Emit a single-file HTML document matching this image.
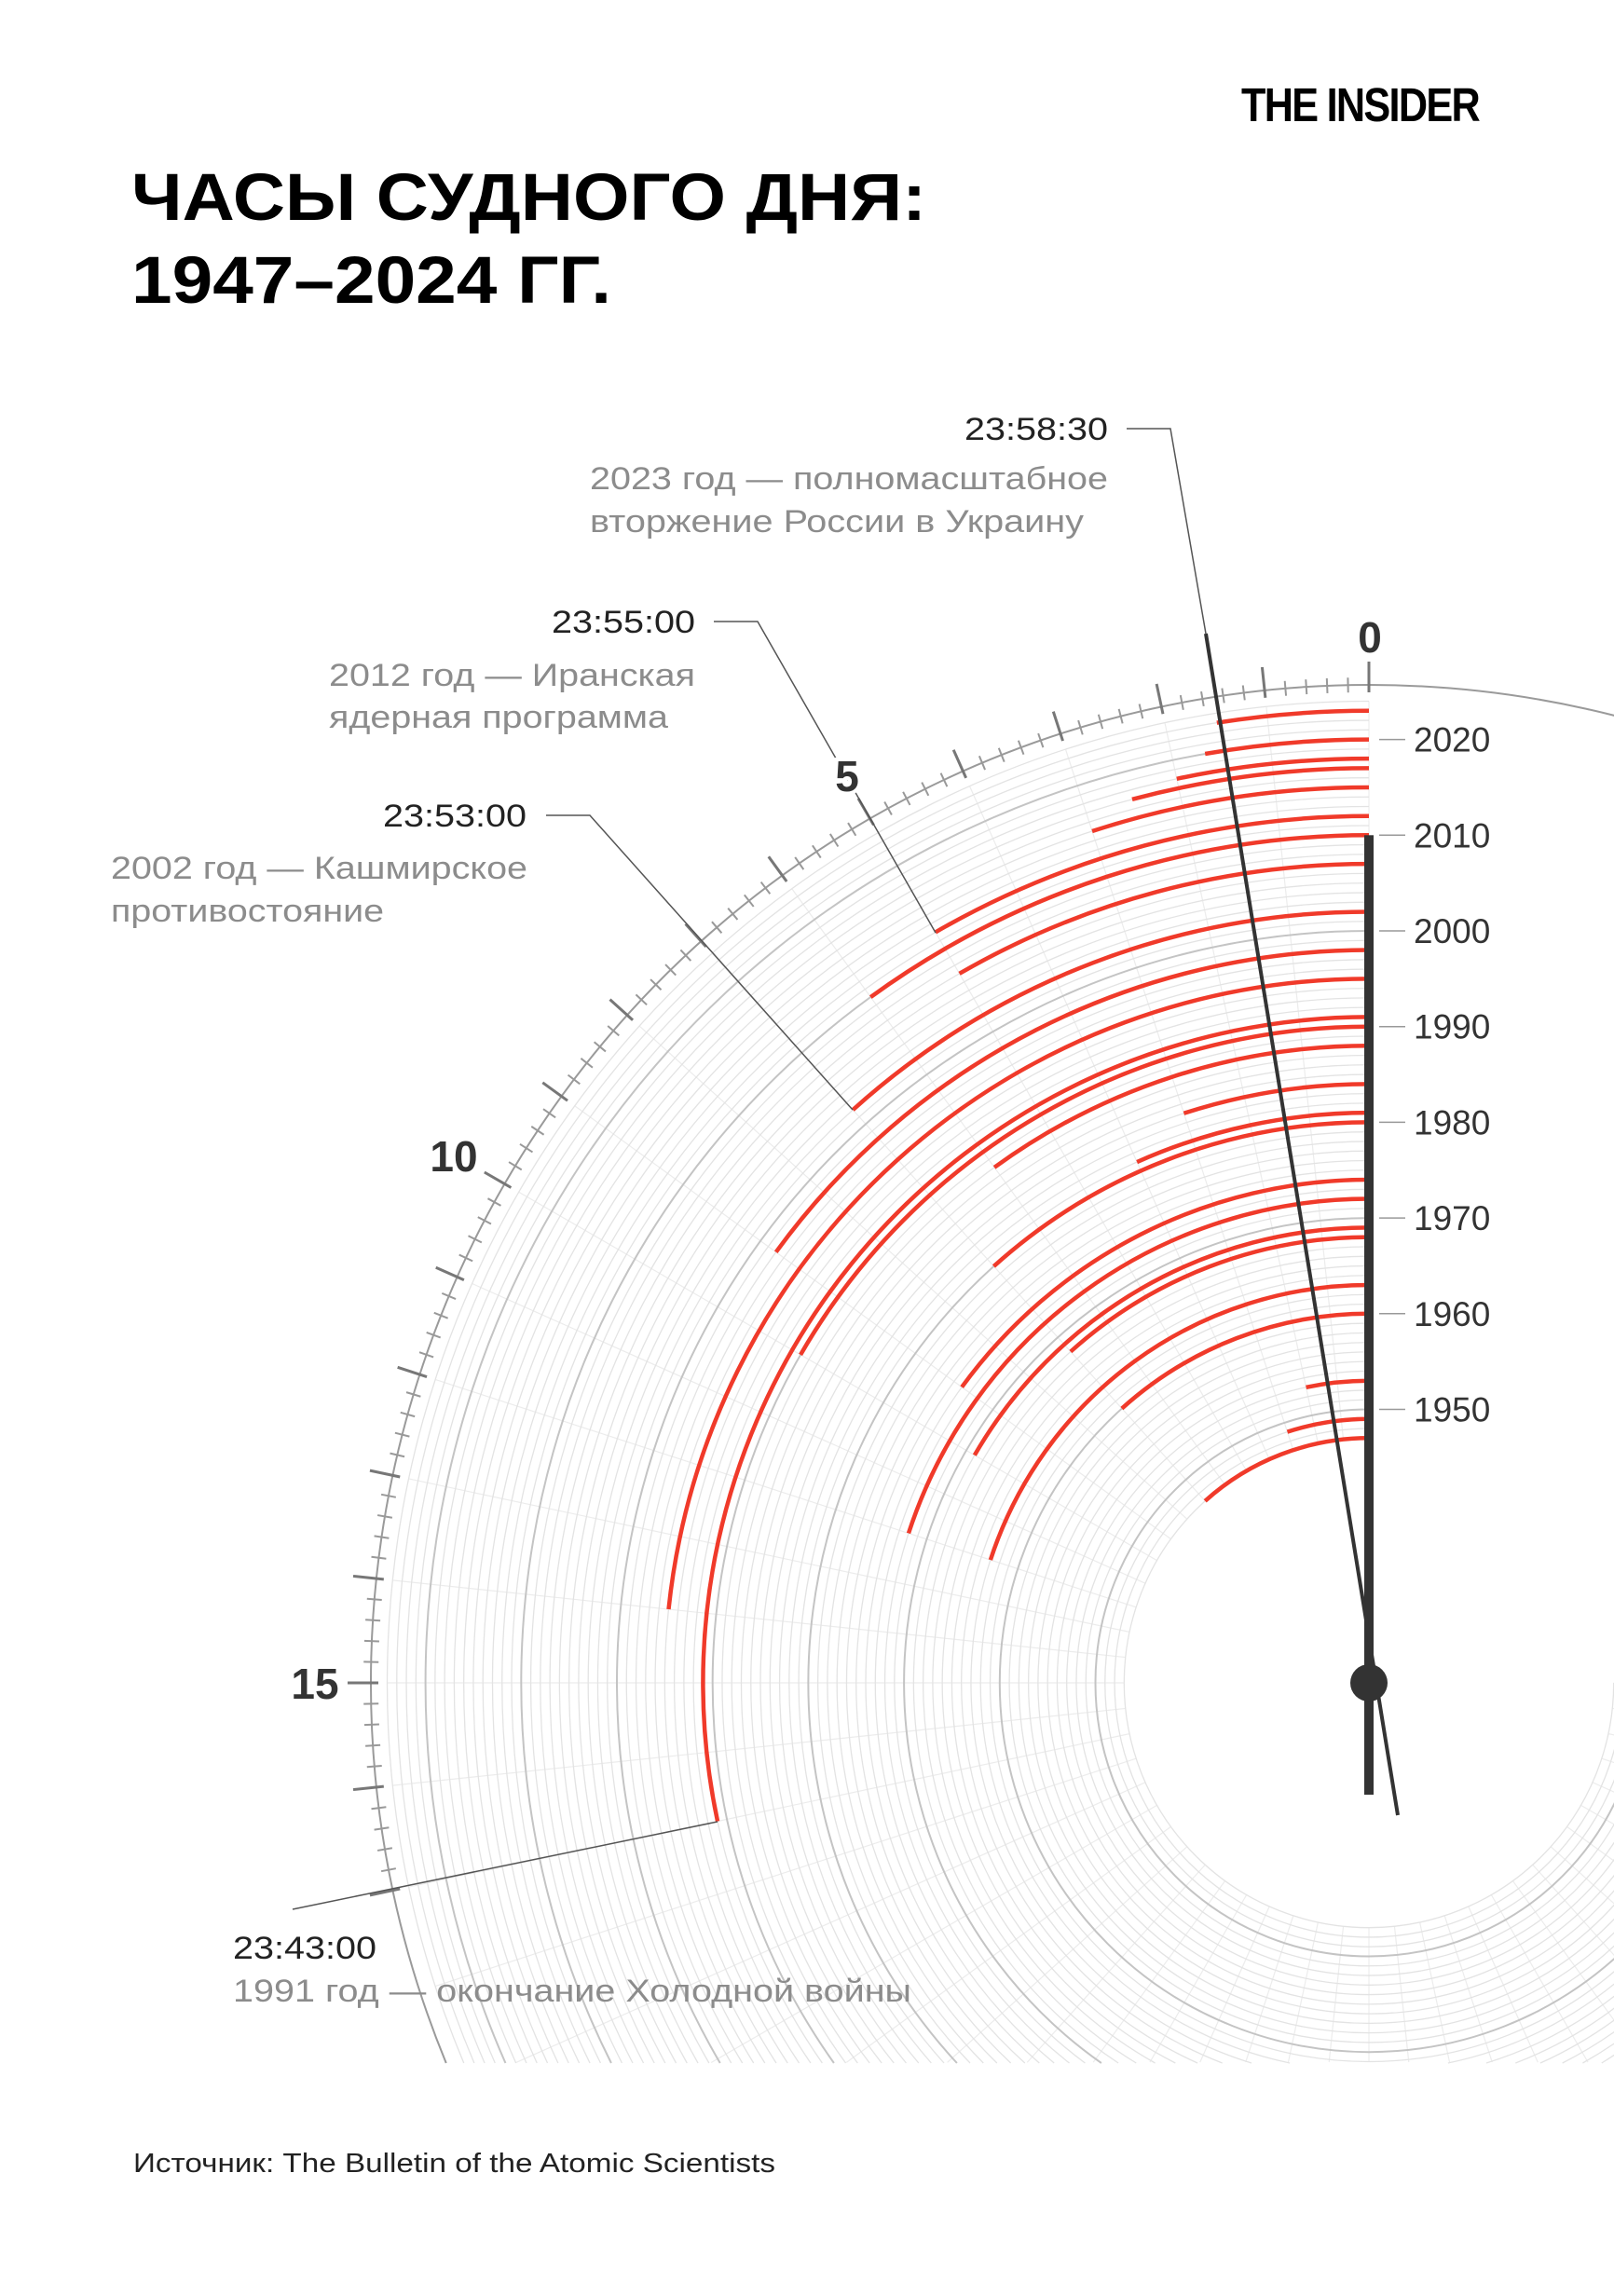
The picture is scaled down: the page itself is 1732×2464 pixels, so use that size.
<!DOCTYPE html>
<html><head><meta charset="utf-8">
<style>
html,body{margin:0;padding:0;background:#fff;width:1732px;height:2464px;overflow:hidden;}
svg{display:block;}
text{font-family:"Liberation Sans","DejaVu Sans",sans-serif;}
</style></head>
<body>
<svg id="s" width="1732" height="2464" viewBox="0 0 1732 2464" xmlns="http://www.w3.org/2000/svg">
<rect width="1732" height="2464" fill="#fff"/>
<text x="1332" y="130" font-size="51" font-weight="bold" fill="#000" textLength="255" lengthAdjust="spacingAndGlyphs" letter-spacing="-2">THE INSIDER</text>
<text x="141" y="236" font-size="71" font-weight="bold" fill="#000" textLength="853" lengthAdjust="spacingAndGlyphs">ЧАСЫ СУДНОГО ДНЯ:</text>
<text x="141" y="325" font-size="71" font-weight="bold" fill="#000" textLength="515" lengthAdjust="spacingAndGlyphs">1947–2024 ГГ.</text>
<g id="grid"></g>
<g id="arcs"></g>
<g id="ticks"></g>
<g id="ann" fill="none" stroke="#555" stroke-width="1.5">
<polyline points="1209,460 1256,460 1294,680"/>
<polyline points="766,667 813,667 1004,1001"/>
<polyline points="586,875 633,875 915,1191"/>
<polyline points="314,2049 770,1955"/>
</g>
<g id="hands"></g>
<g font-size="34" fill="#222">
<text x="1189" y="472" text-anchor="end" textLength="154" lengthAdjust="spacingAndGlyphs">23:58:30</text>
<text x="746" y="679" text-anchor="end" textLength="154" lengthAdjust="spacingAndGlyphs">23:55:00</text>
<text x="565" y="887" text-anchor="end" textLength="154" lengthAdjust="spacingAndGlyphs">23:53:00</text>
<text x="250" y="2102" textLength="154" lengthAdjust="spacingAndGlyphs">23:43:00</text>
</g>
<g font-size="34" fill="#8c8c8c">
<text x="633" y="525" textLength="556" lengthAdjust="spacingAndGlyphs">2023 год — полномасштабное</text>
<text x="633" y="571" textLength="530" lengthAdjust="spacingAndGlyphs">вторжение России в Украину</text>
<text x="746" y="736" text-anchor="end" textLength="393" lengthAdjust="spacingAndGlyphs">2012 год — Иранская</text>
<text x="353" y="781" textLength="364" lengthAdjust="spacingAndGlyphs">ядерная программа</text>
<text x="119" y="943" textLength="447" lengthAdjust="spacingAndGlyphs">2002 год — Кашмирское</text>
<text x="119" y="989" textLength="293" lengthAdjust="spacingAndGlyphs">противостояние</text>
<text x="250" y="2148" textLength="728" lengthAdjust="spacingAndGlyphs">1991 год — окончание Холодной войны</text>
</g>
<g font-size="46" font-weight="bold" fill="#333" text-anchor="middle" stroke="#fff" stroke-width="8" paint-order="stroke">
<text x="1470" y="700">0</text>
<text x="909" y="849">5</text>
<text x="487" y="1257">10</text>
<text x="338" y="1823">15</text>
</g>
<g id="years" font-size="37" fill="#333"></g>
<text x="143" y="2331" font-size="29" fill="#222" textLength="689" lengthAdjust="spacingAndGlyphs">Источник: The Bulletin of the Atomic Scientists</text>
</svg>
<script>
var NS="http://www.w3.org/2000/svg",cx=1469,cy=1806,YB=2214,h=YB-cy;
function R(y){return 807+(y-2000)*10.27;}
function el(p,t,a){var e=document.createElementNS(NS,t);for(var k in a)e.setAttribute(k,a[k]);p.appendChild(e);return e;}
function pt(r,m){var a=m*6*Math.PI/180;return [cx-r*Math.sin(a),cy-r*Math.cos(a)];}
var g=document.getElementById('grid');
for(var m=0;m<=45;m++){var a=m*6*Math.PI/180,c=Math.cos(a);var r1=R(1947),r2=R(2024);
 if(c<0){r2=Math.min(r2,h/(-c)-1);} if(r2<=r1)continue;
 var p=pt(r1,m),q=pt(r2,m);el(g,'line',{x1:p[0],y1:p[1],x2:q[0],y2:q[1],stroke:'#ececec','stroke-width':1.2});}
for(var y=1947;y<=2024;y++){var r=R(y);var dark=(y%10==0);var d;
 if(r<=h){d='M'+cx+','+(cy-r)+' A'+r+','+r+' 0 1 0 '+(cx+r)+','+cy;}
 else{var w=Math.sqrt(r*r-h*h);d='M'+cx+','+(cy-r)+' A'+r+','+r+' 0 0 0 '+(cx-w)+','+YB+' M'+(cx+w)+','+YB+' A'+r+','+r+' 0 0 0 '+(cx+r)+','+cy;}
 el(g,'path',{d:d,fill:'none',stroke:dark?'#c4c4c4':'#e3e3e3','stroke-width':dark?2:1.3});}
(function(){var r=1071,w=Math.sqrt(r*r-h*h);el(g,'path',{d:'M'+(cx-w)+','+YB+' A'+r+','+r+' 0 1 1 '+(cx+w)+','+YB,fill:'none',stroke:'#9a9a9a','stroke-width':2});})();
var D=[[1947,7],[1949,3],[1953,2],[1960,7],[1963,12],[1968,7],[1969,10],[1972,12],[1974,9],[1980,7],[1981,4],[1984,3],[1988,6],[1990,10],[1991,17],[1995,14],[1998,9],[2002,7],[2007,5],[2010,6],[2012,5],[2015,3],[2017,2.5],[2018,2],[2020,100/60],[2023,1.5]];
var A=document.getElementById('arcs');
D.forEach(function(d){var r=R(d[0]),p=pt(r,d[1]);el(A,'path',{d:'M'+cx+','+(cy-r)+' A'+r+','+r+' 0 0 0 '+p[0]+','+p[1],fill:'none',stroke:'#f03a2a','stroke-width':4.5});});
var T=document.getElementById('ticks');
for(var i=0;i<=85;i++){var m=i/5,maj=(i%5==0);var a=pt(1063,m),b=pt(maj?1096:1079,m);
el(T,'line',{x1:a[0],y1:a[1],x2:b[0],y2:b[1],stroke:maj?'#777':'#999','stroke-width':maj?3:2});}
var Y=document.getElementById('years');
for(var y=1950;y<=2020;y+=10){var yy=cy-R(y);el(Y,'line',{x1:1480,y1:yy,x2:1508,y2:yy,stroke:'#999','stroke-width':1.5});var t=el(Y,'text',{x:1517,y:yy+13});t.textContent=y;}
var H=document.getElementById('hands');
el(H,'rect',{x:cx-5,y:cy-R(2010),width:10,height:R(2010)+120,fill:'#333'});
el(H,'line',{x1:1294,y1:680,x2:1500,y2:1948,stroke:'#333','stroke-width':4});
el(H,'circle',{cx:cx,cy:cy,r:20,fill:'#333'});
</script>
</body></html>
